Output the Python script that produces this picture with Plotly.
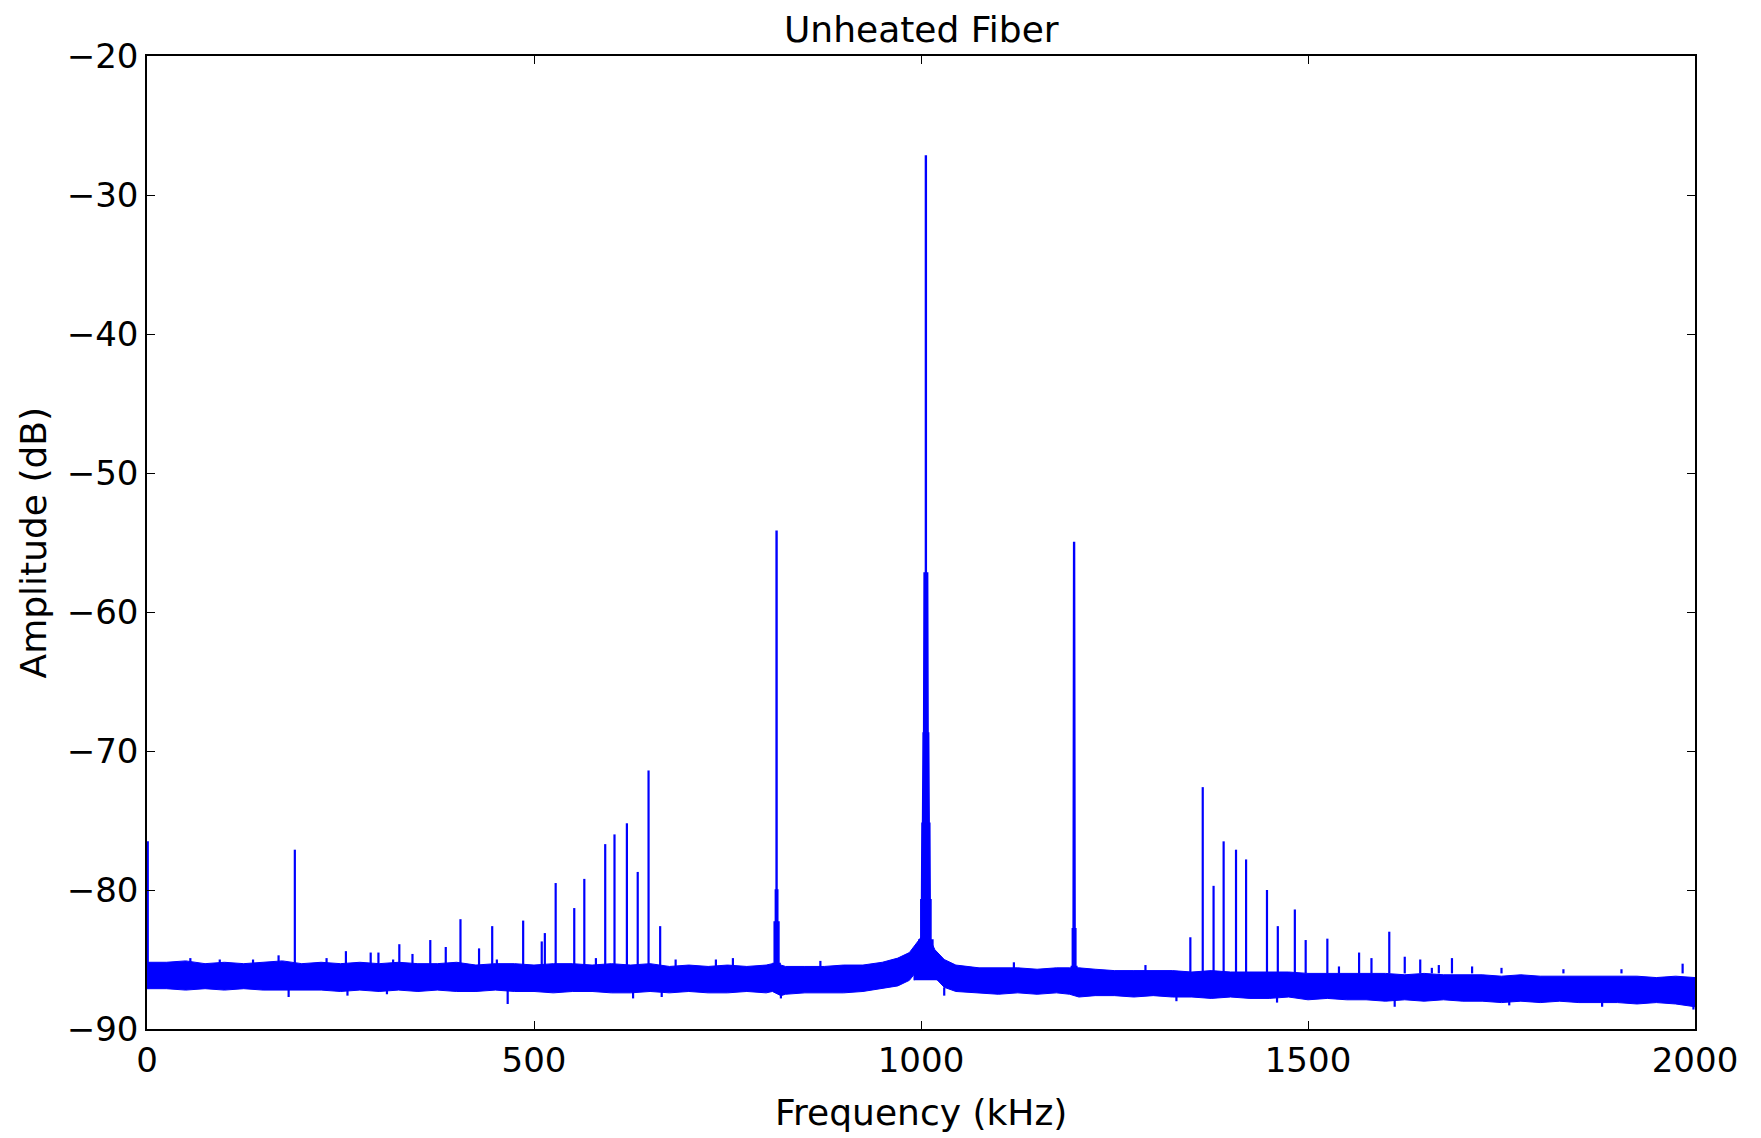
import plotly.graph_objects as go

# ---------------- data ----------------
# noise floor envelope (frequency in kHz, amplitude in dB)
noise_freq = [0, 25, 50, 75, 100, 125, 150, 175, 200, 225, 250, 275, 300,
              325, 350, 375, 400, 425, 450, 475, 500, 525, 550, 575, 600, 625, 650,
              675, 700, 725, 750, 775, 800, 808, 819, 825, 850, 875, 900, 925, 950, 970,
              985, 995, 1000, 1012, 1018, 1030, 1045, 1075, 1100, 1125, 1150, 1175, 1192,
              1204, 1225, 1250, 1275, 1300, 1325, 1350, 1375, 1400, 1425, 1450, 1475, 1500,
              1525, 1550, 1575, 1600, 1625, 1650, 1675, 1700, 1725, 1750, 1775, 1800, 1825,
              1850, 1875, 1900, 1925, 1950, 1975, 2000]
noise_upper = [-85.2, -85.2, -85.1, -85.3, -85.2, -85.3, -85.2, -85.1, -85.3, -85.2, -85.3, -85.2, -85.3,
               -85.2, -85.3, -85.3, -85.2, -85.4, -85.3, -85.3, -85.4, -85.3, -85.3, -85.4, -85.3, -85.4, -85.3,
               -85.5, -85.4, -85.5, -85.4, -85.5, -85.4, -85.3, -85.4, -85.5, -85.5, -85.5, -85.4, -85.4, -85.2, -84.9,
               -84.5, -83.8, -83.4, -83.6, -84.3, -85.0, -85.4, -85.6, -85.6, -85.6, -85.7, -85.6, -85.6,
               -85.6, -85.7, -85.8, -85.8, -85.8, -85.8, -85.9, -85.8, -85.9, -85.9, -85.9, -85.9, -86.0,
               -86.0, -86.0, -86.0, -86.0, -86.1, -86.0, -86.1, -86.1, -86.1, -86.2, -86.1, -86.2, -86.2,
               -86.2, -86.2, -86.2, -86.2, -86.3, -86.2, -86.3]
noise_lower = [-87.1, -87.1, -87.2, -87.1, -87.2, -87.1, -87.2, -87.2, -87.2, -87.2, -87.3, -87.2, -87.3,
               -87.2, -87.3, -87.2, -87.3, -87.3, -87.2, -87.3, -87.3, -87.4, -87.3, -87.3, -87.4, -87.4, -87.3,
               -87.4, -87.3, -87.4, -87.4, -87.3, -87.4, -87.3, -87.6, -87.5, -87.4, -87.4, -87.4, -87.3, -87.1, -86.9,
               -86.5, -85.8, -85.0, -85.3, -86.3, -87.0, -87.3, -87.4, -87.5, -87.4, -87.5, -87.4, -87.5,
               -87.7, -87.6, -87.6, -87.7, -87.6, -87.7, -87.7, -87.8, -87.7, -87.8, -87.8, -87.7, -87.9,
               -87.8, -87.9, -87.9, -88.0, -87.9, -88.0, -87.9, -88.0, -88.0, -88.1, -88.0, -88.1, -88.0,
               -88.1, -88.1, -88.1, -88.2, -88.1, -88.2, -88.4]

# isolated downward excursions of the noise floor
dip_freq = [183, 259, 310, 466, 628, 665, 819, 1030, 1330, 1460, 1612, 1760, 1880, 1998]
dip_amp = [-87.7, -87.6, -87.5, -88.2, -87.8, -87.7, -87.8, -87.6, -88.0, -88.1, -88.4, -88.3, -88.4, -88.6]

# small upward excursions on top of the noise floor
bump_freq = [56, 94, 137, 232, 318, 452, 580, 683, 735, 757, 870, 1120, 1290, 1540, 1660, 1750, 1830, 1905]
bump_amp = [-84.9, -85.0, -85.0, -84.9, -85.0, -85.0, -84.9, -85.0, -85.0, -84.9, -85.1, -85.2, -85.4, -85.5, -85.6, -85.6, -85.7, -85.7]

# narrow spectral lines
peak_freq = [1, 170, 191, 257, 289, 299, 326, 343, 366, 386, 405, 429, 446, 486, 510, 514,
             528, 552, 565, 592, 604, 620, 634, 648, 663,
             1348, 1364, 1378, 1391, 1407, 1420, 1447, 1461, 1483, 1497, 1525, 1566, 1582,
             1605, 1625, 1645, 1669, 1686, 1712, 1984]
peak_amp = [-76.5, -84.7, -77.1, -84.4, -84.5, -84.5, -83.9, -84.6, -83.6, -84.1, -82.1, -84.2, -82.6, -82.2, -83.7, -83.1,
            -79.5, -81.3, -79.2, -76.7, -76.0, -75.2, -78.7, -71.4, -82.6,
            -83.4, -72.6, -79.7, -76.5, -77.1, -77.8, -80.0, -82.6, -81.4, -83.6, -83.5, -84.5, -84.9,
            -83.0, -84.8, -85.0, -85.4, -84.9, -85.5, -85.3]

# strong lines with widened bases: centre, top, then base steps (top level of step, half-width kHz)
main_freq = [813.4, 1006.3, 1197.8]
main_top = [-54.2, -27.2, -55.0]
wing_level_813 = [-85.3, -82.3, -80.0]
wing_width_813 = [4.5, 3.0, 1.5]
wing_level_1006 = [-85.0, -83.6, -80.7, -78.3, -75.2, -71.1, -68.7, -63.7, -57.2]
wing_width_1006 = [15.0, 9.0, 6.5, 5.5, 5.0, 4.2, 3.5, 2.8, 2.2]
wing_level_1198 = [-85.5, -82.8, -79.0]
wing_width_1198 = [3.5, 2.2, 1.2]
base_level = -86.5

x_ticks = [0, 500, 1000, 1500, 2000]
y_ticks = [-90, -80, -70, -60, -50, -40, -30, -20]

BLUE = "#0000ff"
FONT = "DejaVu Sans"

fig = go.Figure()

# noise floor band
fig.add_trace(go.Scatter(x=noise_freq, y=noise_lower, mode="lines",
                         line=dict(color=BLUE, width=1), hoverinfo="skip", showlegend=False))
fig.add_trace(go.Scatter(x=noise_freq, y=noise_upper, mode="lines", fill="tonexty",
                         fillcolor=BLUE, line=dict(color=BLUE, width=1),
                         hoverinfo="skip", showlegend=False))

# narrow lines, small bumps and noise dips
px, py = [], []
for f, a in zip(peak_freq, peak_amp):
    px += [f, f, None]
    py += [-86.0, a, None]
for f, a in zip(bump_freq, bump_amp):
    px += [f, f, None]
    py += [-86.0, a, None]
for f, a in zip(dip_freq, dip_amp):
    px += [f, f, None]
    py += [-87.0, a, None]
fig.add_trace(go.Scatter(x=px, y=py, mode="lines", line=dict(color=BLUE, width=2.2),
                         hoverinfo="skip", showlegend=False))

# strong lines with stepped bases
wings = [(wing_level_813, wing_width_813), (wing_level_1006, wing_width_1006),
         (wing_level_1198, wing_width_1198)]
for c, top, (lv, wd) in zip(main_freq, main_top, wings):
    left_x, left_y = [], []
    prev = base_level
    for level, w in zip(lv, wd):
        left_x += [c - w, c - w]
        left_y += [prev, level]
        prev = level
    xs = left_x + [c - 0.5, c - 0.5, c + 0.5, c + 0.5] + [2 * c - v for v in reversed(left_x)]
    ys = left_y + [prev, top, top, prev] + list(reversed(left_y))
    fig.add_trace(go.Scatter(x=xs, y=ys, mode="lines", fill="toself", fillcolor=BLUE,
                             line=dict(color=BLUE, width=1.6), hoverinfo="skip",
                             showlegend=False))

axis_common = dict(showline=True, linecolor="black", linewidth=1.5, mirror="ticks",
                   ticks="inside", ticklen=8, tickwidth=1, tickcolor="black",
                   showgrid=False, zeroline=False,
                   tickfont=dict(family=FONT, size=34, color="black"))

fig.update_xaxes(range=[0, 2000], tickvals=x_ticks, **axis_common)
fig.update_yaxes(range=[-90, -20], tickvals=y_ticks, **axis_common)

fig.update_layout(
    width=1753, height=1130, autosize=False,
    margin=dict(l=139, r=66, t=48, b=109),
    plot_bgcolor="white", paper_bgcolor="white",
    font=dict(family=FONT, color="black"),
    annotations=[
        dict(text="Unheated Fiber", xref="paper", yref="paper", x=0.5, y=1.027,
             xanchor="center", yanchor="middle", showarrow=False,
             font=dict(family=FONT, size=36, color="black")),
        dict(text="Frequency (kHz)", xref="paper", yref="paper", x=0.5, y=-0.086,
             xanchor="center", yanchor="middle", showarrow=False,
             font=dict(family=FONT, size=36, color="black")),
        dict(text="Amplitude (dB)", xref="paper", yref="paper", x=-0.073, y=0.5,
             xanchor="center", yanchor="middle", showarrow=False, textangle=-90,
             font=dict(family=FONT, size=36, color="black")),
    ],
)

fig.write_html("out.html")
